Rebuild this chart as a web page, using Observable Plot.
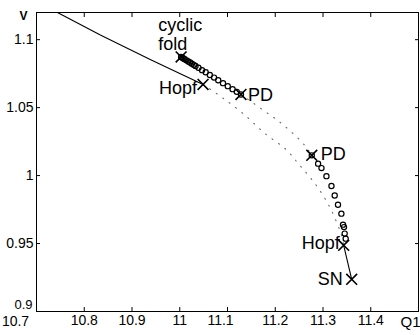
<!DOCTYPE html>
<html><head><meta charset="utf-8">
<script src="https://cdn.jsdelivr.net/npm/d3@7"></script>
<script src="https://cdn.jsdelivr.net/npm/@observablehq/plot@0.6"></script>
<style>body{margin:0;background:#fff}</style>
</head><body><div id="chart"></div>
<script>
// Stable equilibria (solid)
const stableUpperQ = [10.7439, 10.8337, 10.9381, 11.0488];
const stableUpperV = [1.1200, 1.1035, 1.0855, 1.0671];
const stableLowerQ = [11.3433, 11.3601];
const stableLowerV = [0.9487, 0.9237];
// Unstable equilibria (dotted)
const unstableEqQ = [11.0488, 11.0885, 11.1324, 11.1783, 11.2222, 11.2514, 11.2828, 11.3099, 11.3287, 11.3392, 11.3433];
const unstableEqV = [1.0671, 1.0575, 1.0457, 1.0310, 1.0193, 1.0075, 0.9943, 0.9796, 0.9656, 0.9553, 0.9487];
// Unstable periodic orbits (dotted)
const unstablePerQ = [11.1282, 11.1846, 11.2076, 11.2347, 11.2619, 11.2765];
const unstablePerV = [1.0597, 1.0457, 1.0399, 1.0318, 1.0222, 1.0149];
// Stable periodic orbits (circles)
const orbitUpperQ = [11.0029, 11.0054, 11.0079, 11.0104, 11.0142, 11.0179, 11.0217, 11.0254, 11.0292, 11.0330, 11.0392, 11.0467, 11.0543, 11.0630, 11.0718, 11.0806, 11.0906, 11.1006, 11.1107, 11.1194, 11.1282];
const orbitUpperV = [1.0873, 1.0867, 1.0862, 1.0856, 1.0848, 1.0840, 1.0832, 1.0823, 1.0815, 1.0807, 1.0793, 1.0776, 1.0760, 1.0740, 1.0721, 1.0702, 1.0680, 1.0658, 1.0636, 1.0616, 1.0597];
const orbitLowerQ = [11.2765, 11.2897, 11.2968, 11.3072, 11.3177, 11.3245, 11.3314, 11.3385, 11.3419, 11.3440, 11.3454, 11.3475];
const orbitLowerV = [1.0149, 1.0088, 1.0055, 0.9996, 0.9923, 0.9854, 0.9786, 0.9720, 0.9639, 0.9621, 0.9573, 0.9536];
// Bifurcation points
const bifNames = ["cyclic fold", "Hopf", "PD", "PD", "Hopf", "SN"];
const bifQ = [11.0029, 11.0488, 11.1282, 11.2765, 11.3433, 11.3601];
const bifV = [1.0873, 1.0671, 1.0597, 1.0149, 0.9487, 0.9237];
// Axes
const xTicks = [10.7, 10.8, 10.9, 11, 11.1, 11.2, 11.3, 11.4];
const xTickLabels = ["10.7", "10.8", "10.9", "11", "11.1", "11.2", "11.3", "11.4"];
const yTicks = [0.9, 0.95, 1, 1.05, 1.1];
const yTickLabels = ["0.9", "0.95", "1", "1.05", "1.1"];
const xLabel = ["Q1"];
const yLabel = ["V"];

const pts = (Q, V) => Q.map((q, i) => ({Q: q, V: V[i]}));
const bif = bifNames.map((n, i) => ({name: n, Q: bifQ[i], V: bifV[i]}));
const lbl = (i, opts) => Plot.text([bif[i]], {x: "Q", y: "V", text: "name", fontSize: 18, lineHeight: 1.05, fill: "black", ...opts});
const fx = d => xTickLabels[xTicks.indexOf(d)];
const fy = d => yTickLabels[yTicks.indexOf(d)];

const chart = Plot.plot({
  width: 420, height: 335,
  marginLeft: 36, marginRight: 2, marginTop: 12, marginBottom: 24,
  x: {domain: [10.7, 11.5]},
  y: {domain: [0.9, 1.12]},
  style: {fontFamily: "'Liberation Sans', Arial, sans-serif", fontSize: "14px", color: "black", background: "white", overflow: "visible"},
  marks: [
    Plot.line(pts(unstableEqQ, unstableEqV), {x: "Q", y: "V", stroke: "#666", strokeWidth: 1.1, strokeDasharray: "1,7", curve: "catmull-rom"}),
    Plot.line(pts(unstablePerQ, unstablePerV), {x: "Q", y: "V", stroke: "#666", strokeWidth: 1.1, strokeDasharray: "1,7", curve: "catmull-rom"}),
    Plot.line(pts(stableUpperQ, stableUpperV), {x: "Q", y: "V", stroke: "black", strokeWidth: 1.1}),
    Plot.line(pts(stableLowerQ, stableLowerV), {x: "Q", y: "V", stroke: "black", strokeWidth: 1.1}),
    Plot.dot(pts(orbitUpperQ, orbitUpperV), {x: "Q", y: "V", r: 2.6, stroke: "black", strokeWidth: 1.2, fill: "none"}),
    Plot.dot(pts(orbitLowerQ, orbitLowerV), {x: "Q", y: "V", r: 2.6, stroke: "black", strokeWidth: 1.2, fill: "none"}),
    Plot.dot(bif, {x: "Q", y: "V", symbol: "times", r: 5, stroke: "black", strokeWidth: 1.6}),
    lbl(0, {text: () => "cyclic\nfold", textAnchor: "start", lineAnchor: "bottom", dx: -23, dy: -7}),
    lbl(1, {textAnchor: "end", dx: -6, dy: 4}),
    lbl(2, {textAnchor: "start", dx: 7, dy: 0}),
    lbl(3, {textAnchor: "start", dx: 9, dy: -1}),
    lbl(4, {textAnchor: "end", dx: -4, dy: -2}),
    lbl(5, {textAnchor: "end", dx: -9, dy: 0}),
    Plot.frame({stroke: "black", strokeWidth: 1}),
    Plot.axisX(xTicks, {anchor: "bottom", tickSize: -4, tickFormat: () => "", label: null}),
    Plot.axisX([10.8, 10.9, 11, 11.2, 11.3, 11.4], {anchor: "bottom", tickSize: 0, tickPadding: 4, fontSize: 14, tickFormat: fx, label: null}),
    Plot.axisX([10.7], {anchor: "bottom", tickSize: 0, tickPadding: 5, fontSize: 14, tickFormat: fx, dx: -21, label: null}),
    Plot.axisX([11.1], {anchor: "bottom", tickSize: 0, tickPadding: 4, fontSize: 14, tickFormat: fx, dx: -7, label: null}),
    Plot.axisX(xTicks, {anchor: "top", tickSize: -4, tickFormat: () => "", label: null}),
    Plot.axisY(yTicks, {anchor: "left", tickSize: -4, tickFormat: () => "", label: null}),
    Plot.axisY([0.95, 1, 1.05, 1.1], {anchor: "left", tickSize: 0, tickPadding: 3, fontSize: 14, tickFormat: fy, label: null}),
    Plot.axisY([0.9], {anchor: "left", tickSize: 0, tickPadding: 4, fontSize: 13, tickFormat: fy, dy: -7, label: null}),
    Plot.axisY(yTicks, {anchor: "right", tickSize: -4, tickFormat: () => "", label: null}),
    Plot.text(xLabel, {frameAnchor: "bottom-right", textAnchor: "end", lineAnchor: "middle", dx: 2, dy: 11, fontSize: 15, fill: "black"}),
    Plot.text(yLabel, {frameAnchor: "top-left", textAnchor: "end", lineAnchor: "middle", dx: -9, dy: 4, fontSize: 12, fontWeight: "bold", fill: "black"})
  ]
});
document.getElementById("chart").appendChild(chart);
</script>
</body></html>
